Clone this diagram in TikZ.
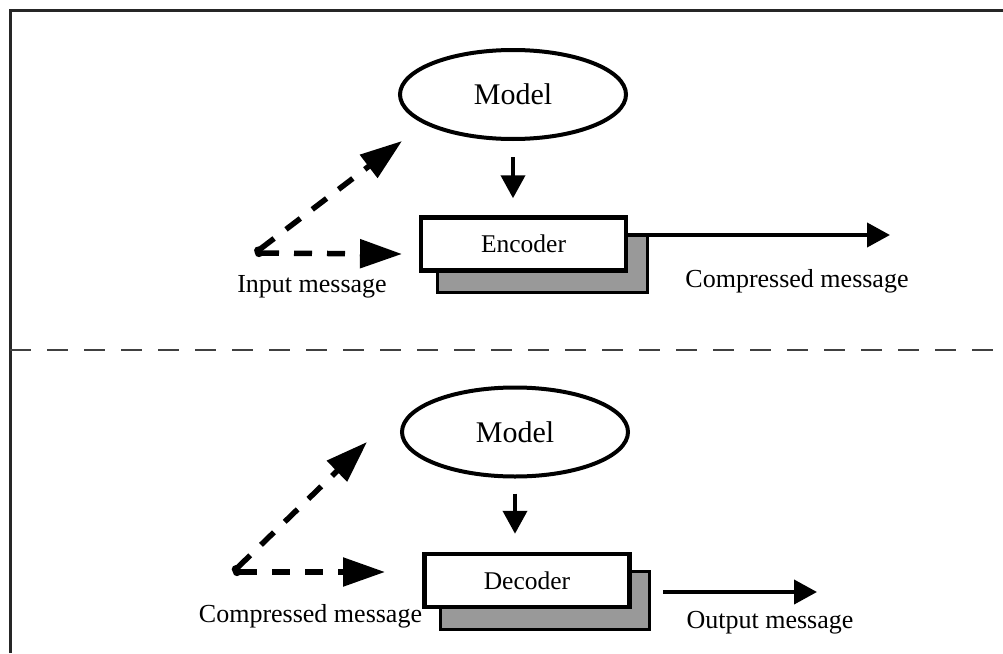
\documentclass[tikz,border=0pt]{standalone}
\usepackage{fontspec}
\setmainfont{Liberation Serif}
\usetikzlibrary{arrows.meta,shapes.geometric,calc,backgrounds}

\begin{document}
\begin{tikzpicture}[x=1pt,y=-1pt,
  model/.style={draw,ellipse,line width=4pt,minimum width=226pt,minimum height=89pt,
    inner sep=0pt,font=\fontsize{30}{36}\selectfont},
  coder/.style={draw,line width=4.5pt,fill=white,minimum width=205pt,minimum height=53pt,
    inner sep=0pt,font=\fontsize{25.5}{30}\selectfont},
  shadowbox/.style={draw,line width=3pt,fill=black!40},
  label/.style={font=\fontsize{26}{31}\selectfont,anchor=base,inner sep=0pt},
  feed/.style={line width=4pt,-{Triangle[length=23pt,width=24pt]}},
  dashfeed/.style={line width=5.5pt,dash pattern=on 18pt off 15pt,
    {Circle[length=8pt]}-{Triangle[length=42pt,width=28pt]}},
  divider/.style={line width=2pt,black!75,dash pattern=on 21pt off 16pt},
  frame/.style={line width=3pt,black!85}
]
\useasboundingbox (0,0) rectangle (1003,653);

% outer frame and divider between the two halves
\draw[frame] (10,653) -- (10,10) -- (1003,10);
\draw[divider] (10,350) -- (1003,350);

% ---------- encoding ----------
\node[model] (m1) at (513,94.5) {Model};
\node[coder] (enc) at (523.5,244) {Encoder};
\begin{scope}[on background layer]
  \draw[shadowbox] ($(enc.south west)+(19,20)$) rectangle ($(enc.north east)+(19,20)$);
\end{scope}
\draw[feed,shorten <=16pt,shorten >=17pt] (m1.south) -- (m1.south |- enc.north);

\coordinate (in1) at (255,253);
\coordinate (in1m) at (402,141);
\coordinate (in1e) at (402,254);
\draw[dashfeed] (in1) -- (in1m);
\draw[dashfeed] (in1) -- (in1e);
\node[label] (lin) at (312,292) {Input message};

\coordinate (encout) at (890,235);
\draw[feed] (enc.east |- encout) -- (encout);
\node[label] (lcomp1) at (797,287) {Compressed message};

% ---------- decoding ----------
\node[model] (m2) at (515,432) {Model};
\node[coder] (dec) at (527,580.5) {Decoder};
\begin{scope}[on background layer]
  \draw[shadowbox] ($(dec.south west)+(18,20)$) rectangle ($(dec.north east)+(18,20)$);
\end{scope}
\draw[feed,shorten <=15pt,shorten >=18pt] (m2.south) -- (m2.south |- dec.north);

\coordinate (in2) at (233,572);
\coordinate (in2m) at (367,442);
\coordinate (in2e) at (385,572);
\draw[dashfeed] (in2) -- (in2m);
\draw[dashfeed] (in2) -- (in2e);
\node[label] (lcomp2) at (310.5,622) {Compressed message};

\coordinate (outs) at (663,592);
\coordinate (oute) at (817,592);
\draw[feed] (outs) -- (oute);
\node[label] (lout) at (770,628) {Output message};
\end{tikzpicture}
\end{document}
